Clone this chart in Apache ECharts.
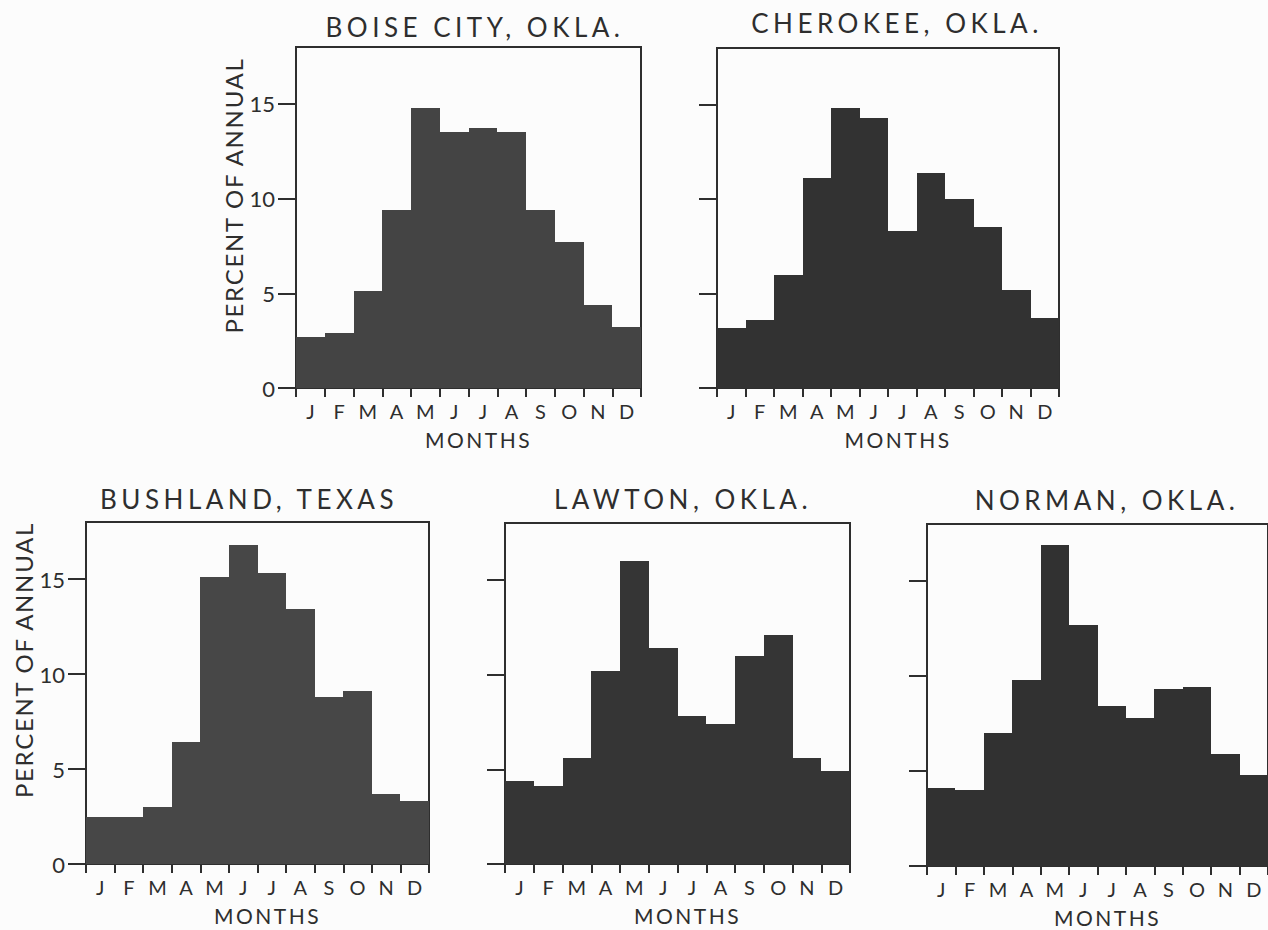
<!DOCTYPE html>
<html>
<head>
<meta charset="utf-8">
<script src="https://cdn.jsdelivr.net/npm/echarts@6/dist/echarts.min.js"></script>
<style>
  html, body { margin: 0; padding: 0; background: #fcfcfc; }
  #chart { width: 1268px; height: 930px; }
  /* wide tracking for the lettering: titles, axis names */
  #chart svg text[style*="26px"] { letter-spacing: 4.5px; }
  #chart svg text[style*="24px"] { letter-spacing: 1.7px; }
  #chart svg text[style*="21px"] { letter-spacing: 2.5px; }
  /* adjacent bars meet without hairline seams */
  #chart svg path { shape-rendering: crispEdges; }
</style>
</head>
<body>
<div id="chart"></div>
<script>
// Monthly share of annual total, per station (percent)
const months = ['J', 'F', 'M', 'A', 'M', 'J', 'J', 'A', 'S', 'O', 'N', 'D'];
const yTicks = [0, 5, 10, 15];
const stations = ['BOISE CITY, OKLA.', 'CHEROKEE, OKLA.', 'BUSHLAND, TEXAS', 'LAWTON, OKLA.', 'NORMAN, OKLA.'];
const boiseCity = [2.7, 2.9, 5.1, 9.4, 14.8, 13.5, 13.7, 13.5, 9.4, 7.7, 4.4, 3.2];
const cherokee  = [3.2, 3.6, 6.0, 11.1, 14.8, 14.3, 8.3, 11.4, 10.0, 8.5, 5.2, 3.7];
const bushland  = [2.5, 2.5, 3.0, 6.4, 15.1, 16.8, 15.3, 13.4, 8.8, 9.1, 3.7, 3.3];
const lawton    = [4.4, 4.1, 5.6, 10.2, 16.0, 11.4, 7.8, 7.4, 11.0, 12.1, 5.6, 4.9];
const norman    = [4.1, 4.0, 7.0, 9.8, 16.9, 12.7, 8.4, 7.8, 9.3, 9.4, 5.9, 4.8];
const seriesValues = [boiseCity, cherokee, bushland, lawton, norman];
const yName = 'PERCENT OF ANNUAL';
const xName = 'MONTHS';

// Panel placement (px) and look
const layout = [
  { left: 296, top: 47,  width: 345, height: 341, color: '#444444', labels: true,  tx: 475,  ty: 27,  shift: 44 },
  { left: 717, top: 48,  width: 342, height: 340, color: '#323232', labels: false, tx: 897,  ty: 23 },
  { left: 86,  top: 522, width: 343, height: 342, color: '#474747', labels: true,  tx: 249,  ty: 499, shift: 66 },
  { left: 505, top: 523, width: 345, height: 341, color: '#353535', labels: false, tx: 683,  ty: 499 },
  { left: 927, top: 524, width: 341, height: 342, color: '#313131', labels: false, tx: 1107, ty: 500 }
];

const ink = '#2e2e2e';
const font = 'Lato';

const grid = [], xAxis = [], yAxis = [], series = [], title = [];
layout.forEach((p, i) => {
  grid.push({
    left: p.left, top: p.top, width: p.width, height: p.height,
    show: true, borderColor: ink, borderWidth: 2, backgroundColor: 'transparent'
  });
  title.push({
    text: stations[i], left: p.tx, top: p.ty, padding: 0,
    textAlign: 'center', textVerticalAlign: 'middle',
    textStyle: { fontFamily: font, fontSize: 26, fontWeight: 'normal', color: ink }
  });
  xAxis.push({
    type: 'category', gridIndex: i, data: months, boundaryGap: true,
    axisLine: { show: true, lineStyle: { color: ink, width: 2 } },
    axisTick: { show: true, interval: 0, length: 9, lineStyle: { color: ink, width: 2 } },
    axisLabel: { interval: 0, margin: 13, fontFamily: font, fontSize: 20, color: ink },
    name: xName, nameLocation: 'middle', nameGap: 41,
    nameTextStyle: { fontFamily: font, fontSize: 21, color: ink, padding: [0, 0, 0, 20] },
    splitLine: { show: false }
  });
  const y = {
    type: 'value', gridIndex: i, min: 0, max: 18,
    axisLine: { show: true, lineStyle: { color: ink, width: 2 } },
    axisTick: { show: true, length: 18, customValues: yTicks, lineStyle: { color: ink, width: 2 } },
    axisLabel: { show: p.labels, customValues: yTicks, margin: 21, fontFamily: font, fontSize: 22, color: ink },
    splitLine: { show: false }
  };
  if (p.labels) {
    Object.assign(y, {
      name: yName, nameLocation: 'middle', nameGap: 51, nameRotate: 90,
      nameTextStyle: { fontFamily: font, fontSize: 24, color: ink, padding: [0, 0, 0, p.shift] }
    });
  }
  yAxis.push(y);
  series.push({
    type: 'bar', xAxisIndex: i, yAxisIndex: i, data: seriesValues[i],
    barCategoryGap: '0%', silent: true,
    itemStyle: { color: p.color }
  });
});

const chart = echarts.init(document.getElementById('chart'), null, { renderer: 'svg' });
chart.setOption({
  backgroundColor: '#fcfcfc',
  animation: false,
  title, grid, xAxis, yAxis, series
});
</script>
</body>
</html>
